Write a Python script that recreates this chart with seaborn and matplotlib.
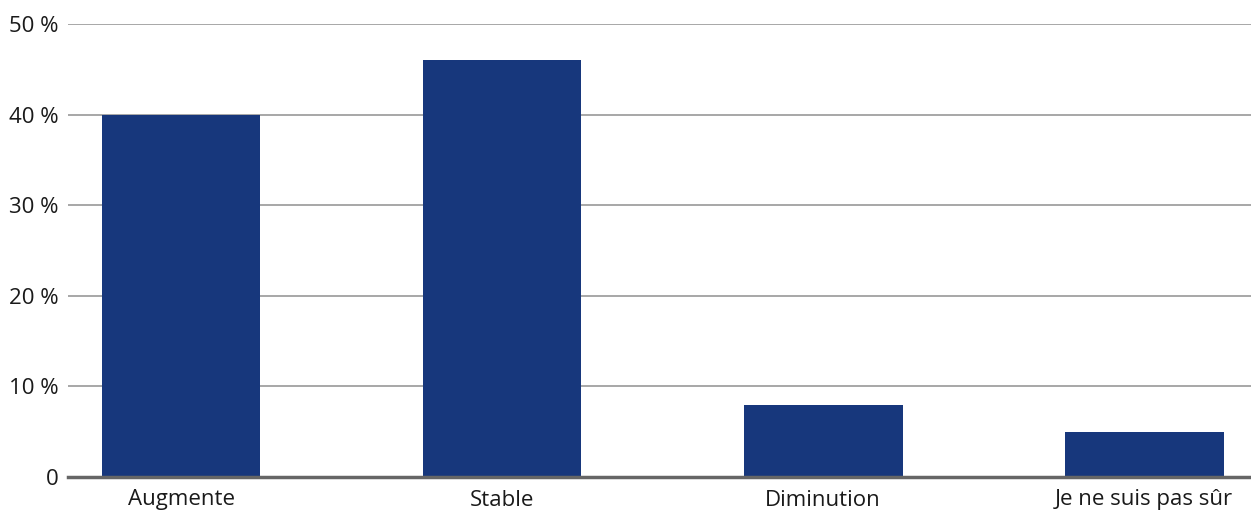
import matplotlib
matplotlib.use('Agg')
import matplotlib.pyplot as plt
import seaborn as sns
import pandas as pd

# Data
categories = ['Augmente', 'Stable', 'Diminution', 'Je ne suis pas sûr']
values = [40, 46, 8, 5]
y_ticks = [0, 10, 20, 30, 40, 50]
y_tick_labels = ['0', '10 %', '20 %', '30 %', '40 %', '50 %']

df = pd.DataFrame({'categorie': categories, 'valeur': values})

sns.set_theme(style='white')
plt.rcParams['font.family'] = ['Open Sans', 'DejaVu Sans']

fig = plt.figure(figsize=(12.51, 5.16), dpi=100)
ax = fig.add_axes([68 / 1251, 1 - 477 / 516, 1 - 68 / 1251, (477 - 24) / 516])

sns.barplot(data=df, x='categorie', y='valeur', color='#17377c', width=0.495,
            saturation=1, linewidth=0, ax=ax, zorder=3)

ax.set_xlim(-0.352, 3.333)
ax.set_ylim(0, 50)
ax.set_yticks(y_ticks)
ax.set_yticklabels(y_tick_labels)
ax.yaxis.grid(True, color='#a0a0a0', linewidth=1.3, zorder=0)
ax.set_axisbelow(True)

for side in ['top', 'right', 'left']:
    ax.spines[side].set_visible(False)
ax.spines['bottom'].set_color('#666666')
ax.spines['bottom'].set_linewidth(2.5)
ax.spines['bottom'].set_zorder(4)

ax.tick_params(axis='both', length=0, labelsize=16, colors='#1a1a1a')
ax.tick_params(axis='y', pad=7)
ax.tick_params(axis='x', pad=9)
ax.set_xlabel('')
ax.set_ylabel('')

fig.savefig('out.png', dpi=100)
